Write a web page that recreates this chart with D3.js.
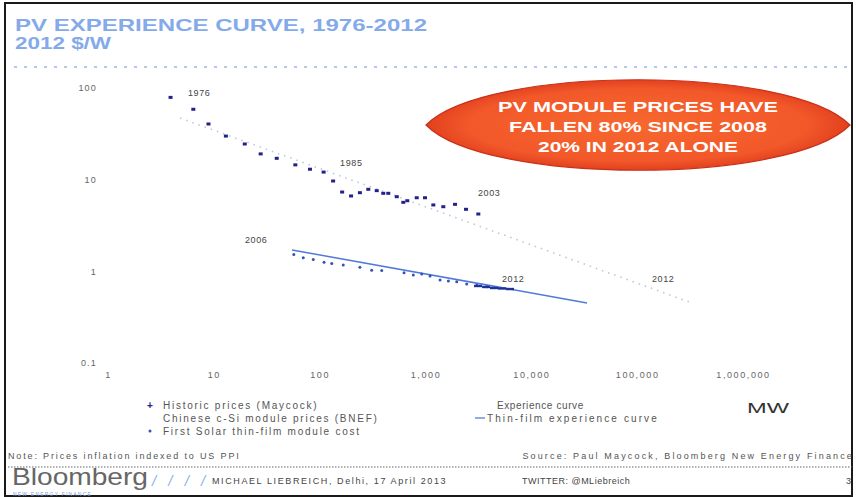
<!DOCTYPE html>
<html><head><meta charset="utf-8">
<script src="https://cdn.jsdelivr.net/npm/d3@7"></script>
<style>
html,body{margin:0;padding:0;background:#fff;}
svg{display:block;}
text{font-family:"Liberation Sans",Arial,sans-serif;}
</style></head>
<body>
<svg id="chart" width="856" height="497"></svg>
<script>
// ---------- DATA ----------
const titleLines = ["PV EXPERIENCE CURVE, 1976-2012", "2012 $/W"];
const xTickValues = [1, 10, 100, 1000, 10000, 100000, 1000000];
const xTickLabels = ["1", "10", "100", "1,000", "10,000", "100,000", "1,000,000"];
const yTickValues = [100, 10, 1, 0.1];
const yTickLabels = ["100", "10", "1", "0.1"];

// Historic prices (Maycock): cumulative MW, 2012 $/W
const historicMW = [3.9, 6.4, 8.9, 13, 19.6, 27.7, 39.3, 58.9, 81, 109, 134, 163, 198, 240, 288, 346, 399, 445, 535, 617, 673, 826, 989, 1186, 1473, 1901, 2415, 3155];
const historicPrice = [79, 58.6, 40.5, 29.9, 24.5, 19.1, 17.1, 14.5, 13.0, 12.1, 9.67, 7.33, 6.64, 7.21, 7.85, 7.59, 7.10, 7.10, 6.52, 5.66, 5.89, 6.35, 6.35, 5.30, 5.07, 5.38, 4.75, 4.22];

// Chinese c-Si module prices (BNEF)
const chineseMW = [3135, 3735, 4440, 5285, 6290];
const chinesePrice = [0.692, 0.675, 0.658, 0.650, 0.641];

// First Solar thin-film module cost
const firstSolarMW = [57, 70, 87, 110, 130, 167, 240, 310, 386, 627, 767, 921, 1104, 1372, 1644, 1973, 2451, 3048, 3787];
const firstSolarCost = [1.53, 1.41, 1.35, 1.26, 1.22, 1.17, 1.11, 1.03, 1.02, 0.967, 0.912, 0.935, 0.889, 0.804, 0.785, 0.770, 0.727, 0.705, 0.680];

// Experience curves (end points)
const expCurveMW = [4.8, 316000];
const expCurvePrice = [47, 0.46];
const thinCurveMW = [54.8, 33600];
const thinCurvePrice = [1.71, 0.452];

// Year annotations
const annoText = ["1976", "1985", "2003", "2006", "2012", "2012"];
const annoMW = [5.7, 156, 3135, 19.7, 5285, 138000];
const annoPrice = [88, 15.2, 7.15, 2.2, 0.825, 0.825];

const calloutLines = ["PV MODULE PRICES HAVE", "FALLEN 80% SINCE 2008", "20% IN 2012 ALONE"];
const legendLeft = ["Historic prices (Maycock)", "Chinese c-Si module prices (BNEF)", "First Solar thin-film module cost"];
const legendRight = ["Experience curve", "Thin-film experience curve"];
const unitLabel = "MW";
const noteText = "Note: Prices inflation indexed to US PPI";
const sourceText = "Source: Paul Maycock, Bloomberg New Energy Finance";
const footerBrand = "Bloomberg";
const footerSub = "NEW ENERGY FINANCE";
const footerAuthor = "MICHAEL LIEBREICH, Delhi, 17 April 2013";
const footerTwitter = "TWITTER: @MLiebreich";
const pageNum = "3";

// ---------- DRAW ----------
const svg = d3.select("#chart");

// frame
svg.append("rect").attr("x", 5).attr("y", 3).attr("width", 847).attr("height", 493)
  .attr("fill", "#fff").attr("stroke", "#1a1a1a").attr("stroke-width", 2);

// title
const titleLen = [412, 96];
titleLines.forEach((t, i) => {
  svg.append("text").attr("x", 15).attr("y", 31 + i * 18).text(t)
    .attr("font-family", "DejaVu Sans, sans-serif").attr("font-size", 16.5).attr("font-weight", "bold")
    .attr("textLength", titleLen[i]).attr("lengthAdjust", "spacingAndGlyphs")
    .attr("fill", "#84aaea");
});
svg.append("line").attr("x1", 14).attr("x2", 850).attr("y1", 67).attr("y2", 67)
  .attr("stroke", "#9ab8ec").attr("stroke-width", 1.6).attr("stroke-dasharray", "3 7");

// scales
const x = d3.scaleLog().domain([1, 1e6]).range([108, 743]);
const y = d3.scaleLog().domain([0.1, 100]).range([363, 88]);

// axes (labels only)
const xAxis = d3.axisBottom(x).tickValues(xTickValues)
  .tickFormat((d, i) => xTickLabels[i]).tickSize(0).tickPadding(0);
const gx = svg.append("g").attr("transform", "translate(0,378)").call(xAxis);
gx.select(".domain").remove();
gx.selectAll("text").attr("font-family", "Liberation Sans, Arial, sans-serif")
  .attr("font-size", 9).attr("fill", "#666").attr("letter-spacing", 1.6).attr("dy", 0);

const yAxis = d3.axisLeft(y).tickValues(yTickValues)
  .tickFormat((d, i) => yTickLabels[i]).tickSize(0).tickPadding(0);
const gy = svg.append("g").attr("transform", "translate(97,0)").call(yAxis);
gy.select(".domain").remove();
gy.selectAll("text").attr("font-family", "Liberation Sans, Arial, sans-serif")
  .attr("font-size", 9).attr("fill", "#666").attr("letter-spacing", 1.2);

// experience curve (dotted)
const line = d3.line().x(d => x(d[0])).y(d => y(d[1]));
svg.append("path").datum(expCurveMW.map((m, i) => [m, expCurvePrice[i]]))
  .attr("d", line).attr("fill", "none").attr("stroke", "#bcc6dc")
  .attr("stroke-width", 1.6).attr("stroke-dasharray", "1.5 5");

// thin-film experience curve
svg.append("path").datum(thinCurveMW.map((m, i) => [m, thinCurvePrice[i]]))
  .attr("d", line).attr("fill", "none").attr("stroke", "#3d6ad6")
  .attr("stroke-width", 1.5).attr("opacity", 0.9);

// First Solar dots
svg.append("g").selectAll("circle").data(firstSolarMW).join("circle")
  .attr("cx", (d) => x(d)).attr("cy", (d, i) => y(firstSolarCost[i]))
  .attr("r", 1.5).attr("fill", "#3552b8");

// Chinese c-Si
svg.append("g").selectAll("rect").data(chineseMW).join("rect")
  .attr("x", d => x(d) - 4).attr("y", (d, i) => y(chinesePrice[i]) - 1.2)
  .attr("width", 8).attr("height", 2.4).attr("fill", "#1f3296");

// historic
svg.append("g").selectAll("rect").data(historicMW).join("rect")
  .attr("x", d => x(d) - 2).attr("y", (d, i) => y(historicPrice[i]) - 1.5)
  .attr("width", 4).attr("height", 3).attr("fill", "#22228a");

// annotations
svg.append("g").selectAll("text").data(annoText).join("text")
  .attr("x", (d, i) => x(annoMW[i])).attr("y", (d, i) => y(annoPrice[i]))
  .attr("dy", "0.35em").text(d => d)
  .attr("font-family", "Liberation Serif, serif").attr("font-size", 9)
  .attr("letter-spacing", 0.6).attr("fill", "#444");

// callout
const cx = 638, cy = 125, rx = 212, ry = 45;
const defs = svg.append("defs");
const grad = defs.append("radialGradient").attr("id", "cg");
grad.append("stop").attr("offset", "0%").attr("stop-color", "#f7682e");
grad.append("stop").attr("offset", "80%").attr("stop-color", "#f2582a");
grad.append("stop").attr("offset", "100%").attr("stop-color", "#e2401e");
const lens = `M${cx - rx},${cy} C${cx - rx * 0.72},${cy - ry * 1.34} ${cx + rx * 0.72},${cy - ry * 1.34} ${cx + rx},${cy} C${cx + rx * 0.72},${cy + ry * 1.34} ${cx - rx * 0.72},${cy + ry * 1.34} ${cx - rx},${cy} Z`;
svg.append("path").attr("d", lens).attr("fill", "url(#cg)").attr("stroke", "#c8321a").attr("stroke-width", 1.2);
const calloutLen = [280, 258, 200];
svg.append("g").selectAll("text").data(calloutLines).join("text")
  .attr("x", cx).attr("y", (d, i) => 112 + i * 20).attr("text-anchor", "middle")
  .text(d => d).attr("font-family", "DejaVu Sans, sans-serif")
  .attr("font-weight", "bold").attr("font-size", 14.5)
  .attr("textLength", (d, i) => calloutLen[i]).attr("lengthAdjust", "spacingAndGlyphs")
  .attr("fill", "#fff");

// legend left
const legL = svg.append("g").attr("font-family", "Liberation Sans, Arial, sans-serif")
  .attr("font-size", 10).attr("fill", "#555").attr("letter-spacing", 1.75);
legendLeft.forEach((t, i) => {
  legL.append("text").attr("x", 163).attr("y", 409 + i * 13).text(t);
});
legL.append("text").attr("x", 150).attr("y", 409).attr("text-anchor", "middle").text("+")
  .attr("fill", "#22228a").attr("font-weight", "bold").attr("letter-spacing", 0);
legL.append("circle").attr("cx", 150).attr("cy", 431).attr("r", 1.5).attr("fill", "#3552b8");

// legend right
const legR = svg.append("g").attr("font-family", "Liberation Sans, Arial, sans-serif")
  .attr("font-size", 10).attr("fill", "#555");
legR.append("text").attr("x", 497).attr("y", 409).text(legendRight[0]).attr("letter-spacing", 0.6);
legR.append("text").attr("x", 487).attr("y", 422).text(legendRight[1]).attr("letter-spacing", 2.1);
legR.append("line").attr("x1", 475).attr("x2", 485).attr("y1", 418).attr("y2", 418)
  .attr("stroke", "#6f8fdc").attr("stroke-width", 1.5);
svg.append("text").attr("x", 747).attr("y", 413).text(unitLabel)
  .attr("font-family", "Liberation Sans, Arial, sans-serif").attr("font-size", 15)
  .attr("textLength", 42).attr("lengthAdjust", "spacingAndGlyphs")
  .attr("fill", "#333");

// note & source
svg.append("text").attr("x", 8).attr("y", 459).text(noteText)
  .attr("font-size", 9).attr("fill", "#555").attr("letter-spacing", 1.85);
svg.append("text").attr("x", 854).attr("y", 459).attr("text-anchor", "end").text(sourceText)
  .attr("font-size", 9).attr("fill", "#555").attr("letter-spacing", 2.15);
svg.append("line").attr("x1", 8).attr("x2", 852).attr("y1", 467).attr("y2", 467)
  .attr("stroke", "#666").attr("stroke-width", 1).attr("stroke-dasharray", "1.5 1.5");

// footer
svg.append("text").attr("x", 12).attr("y", 485).text(footerBrand)
  .attr("font-size", 24).attr("fill", "#666").attr("textLength", 136).attr("lengthAdjust", "spacingAndGlyphs");
svg.append("text").attr("x", 13).attr("y", 495.5).text(footerSub)
  .attr("font-size", 5).attr("fill", "#7a9ad0").attr("letter-spacing", 1.2);
svg.append("text").attr("x", 152).attr("y", 486).text("/ / / /")
  .attr("font-size", 15).attr("font-style", "italic").attr("fill", "#8fb0e8").attr("letter-spacing", 4);
svg.append("text").attr("x", 212).attr("y", 484).text(footerAuthor)
  .attr("font-size", 9).attr("fill", "#444").attr("letter-spacing", 1.6);
svg.append("text").attr("x", 522).attr("y", 484).text(footerTwitter)
  .attr("font-size", 9).attr("fill", "#444").attr("letter-spacing", 0.5);
svg.append("text").attr("x", 846).attr("y", 484).text(pageNum)
  .attr("font-size", 9).attr("fill", "#444");
</script>
</body></html>
